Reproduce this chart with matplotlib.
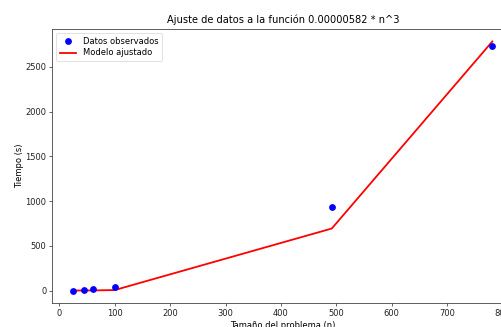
import numpy as np
import matplotlib
matplotlib.use("Agg")
import matplotlib.pyplot as plt

# Problem sizes and measured times
n_values = [25, 45, 60, 100, 492, 782]
observed_times = [0.5, 6, 12, 35, 933, 2737]
coef = 0.00000582

n_arr = np.array(n_values, dtype=float)
model_times = coef * n_arr ** 3

fig = plt.figure(figsize=(5.01, 3.27), dpi=100)
ax = fig.add_axes([52.3 / 501, 24 / 327, 461 / 501, 274 / 327])

ax.scatter(n_values, observed_times, color="blue", s=15, label="Datos observados", zorder=3)
ax.plot(n_values, model_times, color="red", linewidth=1.3, label="Modelo ajustado")

ax.set_title(f"Ajuste de datos a la función {coef:.8f} * n^3", fontsize=7.1, pad=4)
ax.set_xlabel("Tamaño del problema (n)", fontsize=6, labelpad=2)
ax.set_ylabel("Tiempo (s)", fontsize=6, labelpad=1)
ax.set_xticks([0, 100, 200, 300, 400, 500, 600, 700, 800])
ax.tick_params(labelsize=6, length=2.2, width=0.5, pad=2, colors="#222222")
for sp in ax.spines.values():
    sp.set_linewidth(0.6)
    sp.set_color("#444444")

leg = ax.legend(loc="upper left", fontsize=6, frameon=True, borderpad=0.4,
                handlelength=2.0, labelspacing=0.35, markerscale=1.0)
leg.get_frame().set_linewidth(0.5)

fig.savefig("out.png", dpi=100)
